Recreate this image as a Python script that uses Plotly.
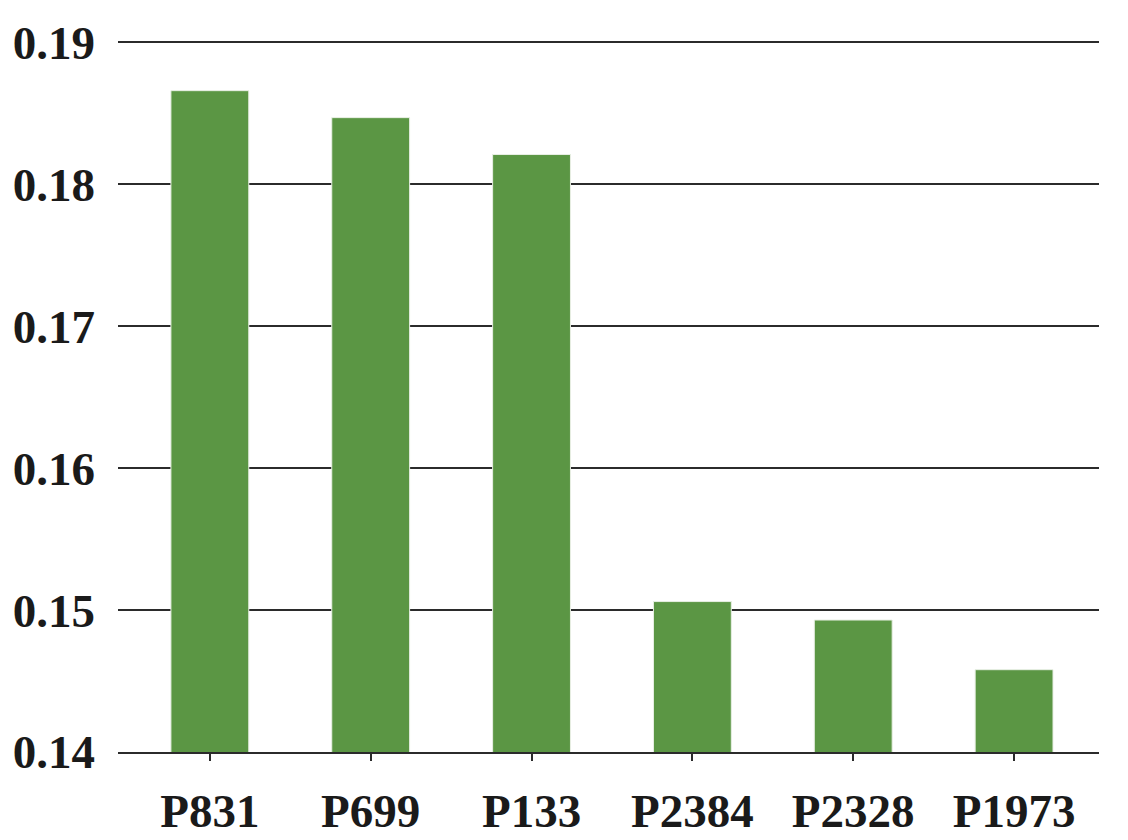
import plotly.graph_objects as go

# values
labels = ["P831", "P699", "P133", "P2384", "P2328", "P1973"]
values = [0.1866, 0.1847, 0.1821, 0.1506, 0.1493, 0.1458]
y_ticks = [0.14, 0.15, 0.16, 0.17, 0.18, 0.19]

font_family = "Liberation Serif, Times New Roman, serif"

fig = go.Figure(
    go.Bar(
        x=labels,
        y=values,
        marker=dict(color="#5b9644", line=dict(color="#e8efe4", width=1)),
        width=0.484,
    )
)

# the page puts the figure 8px in from the top-left corner
fig.update_layout(
    width=1120,
    height=832,
    margin=dict(l=110, r=29, t=33, b=88),
    paper_bgcolor="white",
    plot_bgcolor="white",
    showlegend=False,
    font=dict(family=font_family, size=47, color="#1a1a1a"),
)

fig.update_xaxes(
    type="category",
    range=[-0.571, 5.528],
    automargin=False,
    showline=True,
    linecolor="#2b2b2b",
    linewidth=2,
    ticks="outside",
    ticklen=7,
    tickwidth=2,
    tickcolor="#2b2b2b",
    ticklabelstandoff=10,
    tickfont=dict(family=font_family, size=47, weight="bold"),
    showgrid=False,
)

fig.update_yaxes(
    range=[0.14, 0.1901],
    automargin=False,
    tickvals=y_ticks,
    ticktext=[f"{v:.2f}" for v in y_ticks],
    showgrid=True,
    gridcolor="#2b2b2b",
    gridwidth=2,
    zeroline=False,
    showline=False,
    ticks="",
    ticklabelstandoff=22,
    tickfont=dict(family=font_family, size=47, weight="bold"),
)

fig.write_html("out.html")
